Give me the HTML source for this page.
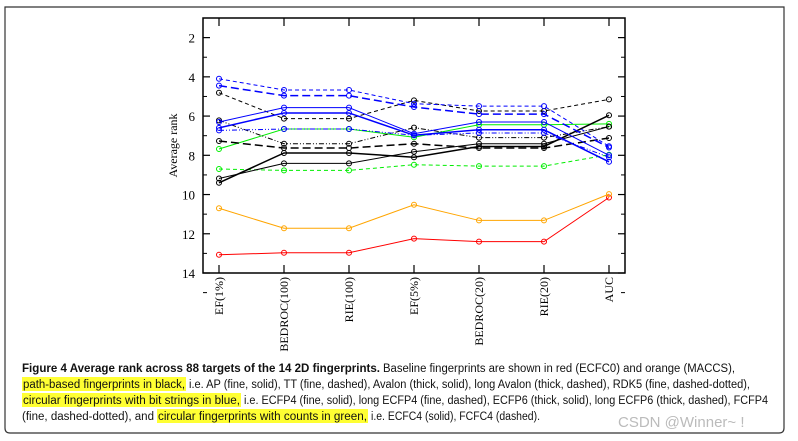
<!DOCTYPE html>
<html><head><meta charset="utf-8"><style>
body{margin:0;width:798px;height:441px;background:#fff;overflow:hidden;font-family:"Liberation Sans",sans-serif}
svg{display:block}
</style></head><body>
<svg id="c" width="798" height="441">
<path d="M5,7 H784 V428 Q784,433 779,433 H10 Q5,433 5,428 Z" fill="none" stroke="#333" stroke-width="1.2"/>
<g id="plot"></g>
<g font-size="11.5" fill="#111">
<rect x="22" y="377" width="164" height="14" fill="#ffff33"/>
<rect x="22" y="393" width="219" height="14" fill="#ffff33"/>
<rect x="157" y="409" width="211" height="14" fill="#ffff33"/>
<text x="22" y="372" textLength="358" lengthAdjust="spacingAndGlyphs" font-weight="bold">Figure 4 Average rank across 88 targets of the 14 2D fingerprints.</text>
<text x="383" y="372" textLength="352" lengthAdjust="spacingAndGlyphs">Baseline fingerprints are shown in red (ECFC0) and orange (MACCS),</text>
<text x="23" y="388" textLength="162" lengthAdjust="spacingAndGlyphs">path-based fingerprints in black,</text>
<text x="189" y="388" textLength="561" lengthAdjust="spacingAndGlyphs">i.e. AP (fine, solid), TT (fine, dashed), Avalon (thick, solid), long Avalon (thick, dashed), RDK5 (fine, dashed-dotted),</text>
<text x="23" y="404" textLength="217" lengthAdjust="spacingAndGlyphs">circular fingerprints with bit strings in blue,</text>
<text x="244" y="404" textLength="524" lengthAdjust="spacingAndGlyphs">i.e. ECFP4 (fine, solid), long ECFP4 (fine, dashed), ECFP6 (thick, solid), long ECFP6 (thick, dashed), FCFP4</text>
<text x="22" y="420" textLength="132" lengthAdjust="spacingAndGlyphs">(fine, dashed-dotted), and</text>
<text x="158" y="420" textLength="209" lengthAdjust="spacingAndGlyphs">circular fingerprints with counts in green,</text>
<text x="371" y="420" textLength="169" lengthAdjust="spacingAndGlyphs">i.e. ECFC4 (solid), FCFC4 (dashed).</text>
</g>
<text x="618" y="427" font-size="15" fill="#bbb">CSDN @Winner~ !</text>
</svg>
<script>
const categories=["EF(1%)","BEDROC(100)","RIE(100)","EF(5%)","BEDROC(20)","RIE(20)","AUC"];
const yTicks=[2,4,6,8,10,12,14];
const red=[13.07,12.97,12.97,12.25,12.4,12.4,10.15];
const orange=[10.7,11.72,11.72,10.52,11.32,11.32,9.98];
const ecfc4=[7.68,6.66,6.66,7.08,6.44,6.44,6.4];
const fcfc4=[8.7,8.77,8.77,8.48,8.55,8.55,7.97];
const ap=[9.18,8.41,8.41,7.82,7.41,7.41,6.54];
const avalon=[9.4,7.88,7.88,8.1,7.55,7.55,5.96];
const tt=[4.81,6.13,6.13,5.2,5.74,5.74,5.15];
const longAvalon=[7.27,7.63,7.63,7.41,7.63,7.63,7.12];
const rdk5=[6.22,7.41,7.41,6.59,7.1,7.1,6.54];
const ecfp4=[6.3,5.57,5.57,6.9,6.3,6.3,8.0];
const ecfp6=[6.6,5.84,5.84,6.98,6.7,6.7,8.33];
const longEcfp4=[4.1,4.67,4.67,5.37,5.49,5.49,7.54];
const longEcfp6=[4.45,4.96,4.96,5.54,5.9,5.9,7.6];
const fcfp4=[6.73,6.66,6.66,6.98,6.86,6.86,8.1];

const NS="http://www.w3.org/2000/svg";
const g=document.getElementById('plot');
const L=203,R=625,T=18,B=273;
const x=i=>219+i*65;
const y=v=>T+(v-1)*(B-T)/13;
function mk(t,a,p){const e=document.createElementNS(NS,t);for(const k in a)e.setAttribute(k,a[k]);(p||g).appendChild(e);return e;}
const frame=mk('rect',{x:L,y:T,width:R-L,height:B-T,fill:'none',stroke:'#000','stroke-width':1.5});


yTicks.forEach(v=>{
  const t=mk('line',{x1:L,x2:L+7,y1:y(v),y2:y(v),stroke:'#000','stroke-width':1.2});
  
  
  mk('line',{x1:R,x2:R-7,y1:y(v),y2:y(v),stroke:'#000','stroke-width':1.2});
  mk('line',{x1:L,x2:L+4,y1:y(v+1),y2:y(v+1),stroke:'#000','stroke-width':1});
  mk('line',{x1:R,x2:R-4,y1:y(v+1),y2:y(v+1),stroke:'#000','stroke-width':1});
  const lb=mk('text',{x:L-8,y:y(v)+5,'text-anchor':'end','font-family':'Liberation Serif,serif','font-size':13});
  lb.textContent=v;
  
  
});
const yt=mk('text',{transform:'translate(177,'+((T+B)/2)+') rotate(-90)','text-anchor':'middle','font-family':'Liberation Serif,serif','font-size':12});
yt.textContent='Average rank';


categories.forEach((c,i)=>{
  mk('line',{x1:x(i),x2:x(i),y1:B,y2:B-8,stroke:'#000','stroke-width':1.2});
  mk('line',{x1:x(i),x2:x(i),y1:T,y2:T+8,stroke:'#000','stroke-width':1.2});
  const t=mk('text',{transform:'translate('+(x(i)+4)+','+(B+4)+') rotate(-90)','text-anchor':'end','font-family':'Liberation Serif,serif','font-size':12});
  t.textContent=c;
  
  
});
const series=[
 [red,'#ff0000',1,'','red-ecfc0'],
 [orange,'#ffa500',1,'','orange-maccs'],
 [ecfc4,'#00ee00',1,'','green-ecfc4'],
 [fcfc4,'#00ee00',1,'4,3','green-fcfc4'],
 [ap,'#000',1,'','black-ap'],
 [avalon,'#000',1.5,'','black-avalon'],
 [tt,'#000',1,'4,3','black-tt'],
 [longAvalon,'#000',1.5,'8,4','black-long-avalon'],
 [rdk5,'#000',1,'5,2,1,2,1,2','black-rdk5'],
 [ecfp4,'#0000ff',1,'','blue-ecfp4'],
 [ecfp6,'#0000ff',1.5,'','blue-ecfp6'],
 [longEcfp4,'#0000ff',1,'4,3','blue-long-ecfp4'],
 [longEcfp6,'#0000ff',1.5,'8,4','blue-long-ecfp6'],
 [fcfp4,'#0000ff',1,'5,2,1,2,1,2','blue-fcfp4']
];
series.forEach(([d,c,w,da,n])=>{
  const p=mk('polyline',{points:d.map((v,i)=>x(i)+','+y(v)).join(' '),fill:'none',stroke:c,'stroke-width':w,'stroke-dasharray':da});
  
  
  d.forEach((v,i)=>{
    const m=mk('circle',{cx:x(i),cy:y(v),r:2.5,fill:'none',stroke:c,'stroke-width':1});
    
    
  });
});
</script>
</body></html>
